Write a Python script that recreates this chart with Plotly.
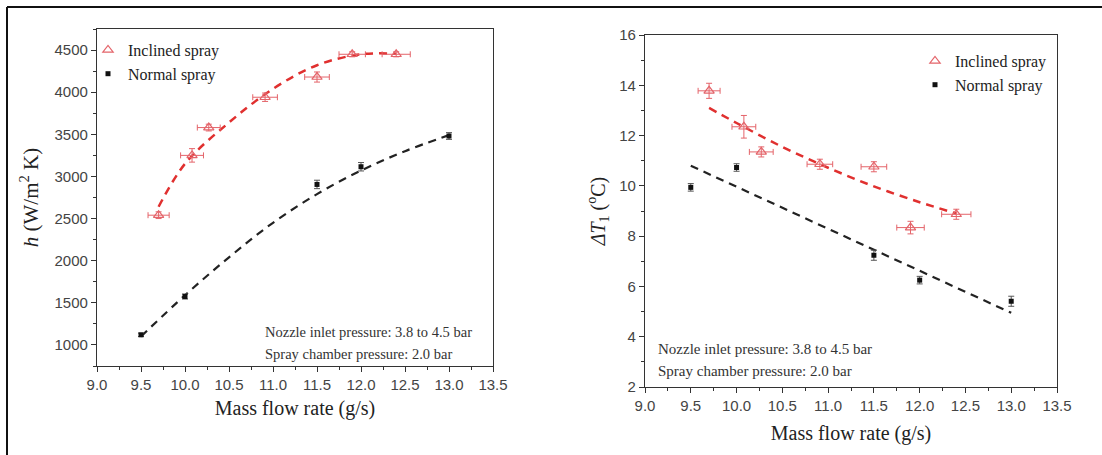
import plotly.graph_objects as go

# ---------------- data: left panel (h) ----------------
incl_x = [9.7, 10.08, 10.27, 10.91, 11.5, 11.9, 12.4]
incl_h = [2540, 3250, 3580, 3940, 4180, 4450, 4450]
incl_h_err = [40, 80, 40, 50, 60, 30, 30]
incl_x_err = [0.12, 0.13, 0.13, 0.14, 0.14, 0.15, 0.16]

norm_x = [9.5, 10.0, 11.5, 12.0, 13.0]
norm_h = [1120, 1575, 2905, 3115, 3480]
norm_h_err = [20, 30, 50, 50, 40]

fit_incl_h_x = [9.7, 10.0, 10.5, 11.0, 11.5, 12.0, 12.4]
fit_incl_h_y = [2640, 3150, 3640, 4040, 4320, 4450, 4455]
fit_norm_h_x = [9.5, 10.0, 10.5, 11.0, 11.5, 12.0, 12.5, 13.0]
fit_norm_h_y = [1100, 1590, 2040, 2450, 2790, 3070, 3300, 3490]

# ---------------- data: right panel (dT1) ----------------
incl_dT = [13.78, 12.35, 11.35, 10.86, 10.76, 8.34, 8.87]
incl_dT_err = [0.3, 0.45, 0.2, 0.2, 0.2, 0.25, 0.2]
norm_dT = [9.94, 10.73, 7.24, 6.25, 5.41]
norm_dT_err = [0.15, 0.15, 0.2, 0.15, 0.2]

fit_incl_dT_x = [9.7, 10.0, 10.5, 11.0, 11.5, 12.0, 12.4]
fit_incl_dT_y = [13.1, 12.5, 11.55, 10.72, 9.98, 9.35, 8.9]
fit_norm_dT_x = [9.5, 13.0]
fit_norm_dT_y = [10.8, 4.95]

x_ticks = [9.0, 9.5, 10.0, 10.5, 11.0, 11.5, 12.0, 12.5, 13.0, 13.5]
x_tick_labels = ["9.0", "9.5", "10.0", "10.5", "11.0", "11.5", "12.0", "12.5", "13.0", "13.5"]

RED_M = "#e4646a"
RED_L = "#e0302f"
BLK = "#111111"
SERIF = "Liberation Serif"
SANS = "Liberation Sans"

W, H = 1102, 455
L_dom_x = [97 / W, 493 / W]
L_dom_y = [(H - 366) / H, (H - 29) / H]
R_dom_x = [645 / W, 1057 / W]
R_dom_y = [(H - 387) / H, (H - 35) / H]

fig = go.Figure()

# left panel
fig.add_trace(go.Scatter(x=fit_incl_h_x, y=fit_incl_h_y, mode="lines", line=dict(color=RED_L, width=2.5, dash="8px,6px", shape="spline"),
                         showlegend=False, hoverinfo="skip", xaxis="x", yaxis="y"))
fig.add_trace(go.Scatter(x=fit_norm_h_x, y=fit_norm_h_y, mode="lines", line=dict(color="#222222", width=2.2, dash="8px,6px", shape="spline"),
                         showlegend=False, hoverinfo="skip", xaxis="x", yaxis="y"))
fig.add_trace(go.Scatter(x=incl_x, y=incl_h, mode="markers", name="Inclined spray",
                         marker=dict(symbol="triangle-up-open", size=9, color=RED_M, line=dict(width=1.2)),
                         error_y=dict(type="data", array=incl_h_err, color=RED_M, thickness=1, width=3),
                         error_x=dict(type="data", array=incl_x_err, color=RED_M, thickness=1, width=3),
                         xaxis="x", yaxis="y", legend="legend"))
fig.add_trace(go.Scatter(x=norm_x, y=norm_h, mode="markers", name="Normal spray",
                         marker=dict(symbol="square", size=5, color=BLK),
                         error_y=dict(type="data", array=norm_h_err, color="#555555", thickness=1, width=3),
                         xaxis="x", yaxis="y", legend="legend"))

# right panel
fig.add_trace(go.Scatter(x=fit_incl_dT_x, y=fit_incl_dT_y, mode="lines", line=dict(color=RED_L, width=2.5, dash="8px,6px", shape="spline"),
                         showlegend=False, hoverinfo="skip", xaxis="x2", yaxis="y2"))
fig.add_trace(go.Scatter(x=fit_norm_dT_x, y=fit_norm_dT_y, mode="lines", line=dict(color="#222222", width=2.2, dash="8px,6px"),
                         showlegend=False, hoverinfo="skip", xaxis="x2", yaxis="y2"))
fig.add_trace(go.Scatter(x=incl_x, y=incl_dT, mode="markers", name="Inclined spray",
                         marker=dict(symbol="triangle-up-open", size=9, color=RED_M, line=dict(width=1.2)),
                         error_y=dict(type="data", array=incl_dT_err, color=RED_M, thickness=1, width=3),
                         error_x=dict(type="data", array=incl_x_err, color=RED_M, thickness=1, width=3),
                         xaxis="x2", yaxis="y2", legend="legend2"))
fig.add_trace(go.Scatter(x=norm_x, y=norm_dT, mode="markers", name="Normal spray",
                         marker=dict(symbol="square", size=5, color=BLK),
                         error_y=dict(type="data", array=norm_dT_err, color="#555555", thickness=1, width=3),
                         xaxis="x2", yaxis="y2", legend="legend2"))

tickfont = dict(family=SANS, size=15, color="#444444")
titlefont = dict(family=SERIF, size=20, color="#222222")
axcol = "#333333"

def xax(domain, anchor, title, standoff):
    return dict(domain=domain, anchor=anchor, range=[9.0, 13.5], tickvals=x_ticks, ticktext=x_tick_labels,
                ticks="outside", ticklen=5, tickwidth=1.2, tickcolor=axcol, automargin=False,
                minor=dict(dtick=0.25, tick0=9.0, ticks="outside", ticklen=3, tickcolor=axcol),
                showline=True, linecolor=axcol, linewidth=1.3, mirror=True, showgrid=False, zeroline=False,
                tickfont=tickfont, title=dict(text=title, font=titlefont, standoff=standoff))

def yax(domain, anchor, rng, dtick, minor, title, standoff, tsize):
    return dict(domain=domain, anchor=anchor, range=rng, dtick=dtick, tick0=0,
                ticks="outside", ticklen=5, tickwidth=1.2, tickcolor=axcol, automargin=False,
                minor=dict(dtick=minor, ticks="outside", ticklen=3, tickcolor=axcol),
                showline=True, linecolor=axcol, linewidth=1.3, mirror=True, showgrid=False, zeroline=False,
                tickfont=tickfont, title=dict(text=title, font=dict(family=SERIF, size=tsize, color="#222222"), standoff=standoff))

def mirror_x(domain, overlay, anchor):
    return dict(domain=domain, overlaying=overlay, anchor=anchor, side="top", range=[9.0, 13.5], tickvals=x_ticks,
                ticks="inside", ticklen=5, tickcolor=axcol, showticklabels=False, showgrid=False, zeroline=False,
                automargin=False,
                minor=dict(dtick=0.25, tick0=9.0, ticks="inside", ticklen=3, tickcolor=axcol))

def mirror_y(domain, overlay, anchor, rng, dtick, minor):
    return dict(domain=domain, overlaying=overlay, anchor=anchor, side="right", range=rng, dtick=dtick, tick0=0,
                ticks="inside", ticklen=5, tickcolor=axcol, showticklabels=False, showgrid=False, zeroline=False,
                automargin=False,
                minor=dict(dtick=minor, ticks="inside", ticklen=3, tickcolor=axcol))

fig.update_layout(
    width=W, height=H, margin=dict(l=0, r=0, t=0, b=0, pad=0, autoexpand=False),
    paper_bgcolor="white", plot_bgcolor="white",
    font=dict(family=SERIF, size=16, color="#222222"),
    xaxis=xax(L_dom_x, "y", "Mass flow rate (g/s)", 8),
    yaxis=yax(L_dom_y, "x", [750, 4750], 500, 250, "<i>h</i> (W/m<sup>2</sup> K)", 10, 21),
    xaxis2=xax(R_dom_x, "y2", "Mass flow rate (g/s)", 12),
    yaxis2=yax(R_dom_y, "x2", [2, 16], 2, 1, "<i>ΔT</i><sub>1</sub> (<sup>o</sup>C)", 8, 20),
    xaxis3=mirror_x(L_dom_x, "x", "y"),
    yaxis3=mirror_y(L_dom_y, "y", "x", [750, 4750], 500, 250),
    xaxis4=mirror_x(R_dom_x, "x2", "y2"),
    yaxis4=mirror_y(R_dom_y, "y2", "x2", [2, 16], 2, 1),
    legend=dict(x=88 / W, y=1 - 33 / H, xanchor="left", yanchor="top", bgcolor="rgba(0,0,0,0)",
                font=dict(family=SERIF, size=16, color="#222222"), itemwidth=30, tracegroupgap=0),
    legend2=dict(x=915 / W, y=1 - 44 / H, xanchor="left", yanchor="top", bgcolor="rgba(0,0,0,0)",
                 font=dict(family=SERIF, size=16, color="#222222"), itemwidth=30, tracegroupgap=0),
    annotations=[
        dict(text="Nozzle inlet pressure: 3.8 to 4.5 bar", x=263 / W, y=1 - 332 / H, xref="paper", yref="paper",
             xanchor="left", yanchor="middle", showarrow=False, font=dict(family=SERIF, size=14.5, color="#333333")),
        dict(text="Spray chamber pressure: 2.0 bar", x=263 / W, y=1 - 354 / H, xref="paper", yref="paper",
             xanchor="left", yanchor="middle", showarrow=False, font=dict(family=SERIF, size=14.5, color="#333333")),
        dict(text="Nozzle inlet pressure: 3.8 to 4.5 bar", x=656 / W, y=1 - 349 / H, xref="paper", yref="paper",
             xanchor="left", yanchor="middle", showarrow=False, font=dict(family=SERIF, size=15, color="#333333")),
        dict(text="Spray chamber pressure: 2.0 bar", x=656 / W, y=1 - 371 / H, xref="paper", yref="paper",
             xanchor="left", yanchor="middle", showarrow=False, font=dict(family=SERIF, size=15, color="#333333")),
    ],
    shapes=[
        dict(type="line", xref="paper", yref="paper", x0=7 / W, x1=7 / W, y0=0, y1=1 - 7 / H, line=dict(color="#111111", width=2)),
        dict(type="line", xref="paper", yref="paper", x0=7 / W, x1=1, y0=1 - 7 / H, y1=1 - 7 / H, line=dict(color="#111111", width=2)),
    ],
)

fig.write_html("out.html")
